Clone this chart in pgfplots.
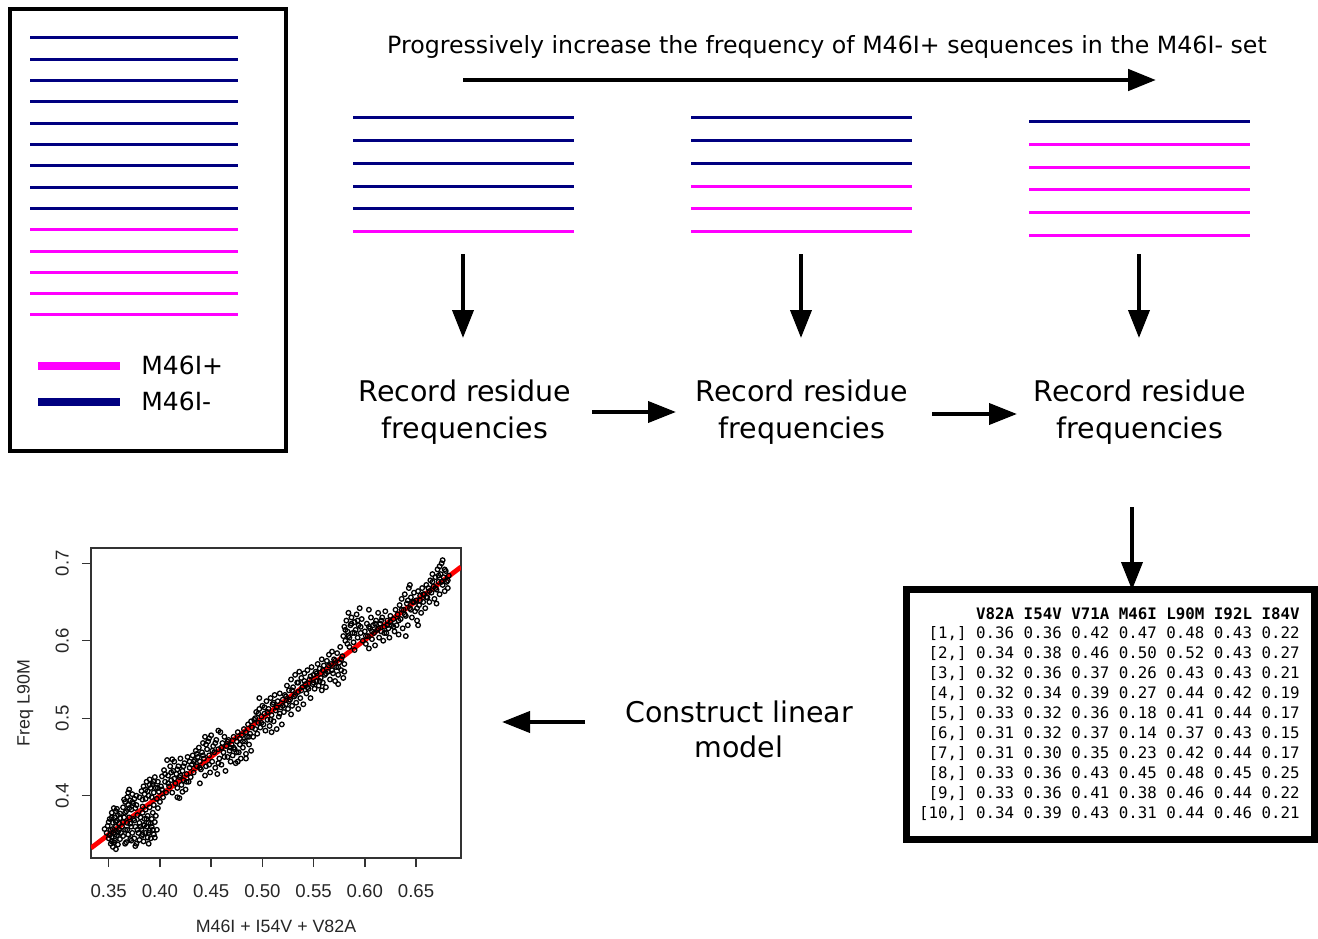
\documentclass[border=0pt]{standalone}
\usepackage{fontspec}
\setmainfont{DejaVu Sans}
\newfontfamily\arial{Liberation Sans}
\newfontfamily\mono{DejaVu Sans Mono}
\usepackage{pgfplots}
\pgfplotsset{compat=1.18}
\usetikzlibrary{arrows.meta}
\definecolor{seqneg}{HTML}{000080}
\definecolor{seqpos}{HTML}{FF00FF}
\tikzset{bigarrow/.style={line width=2pt,-{Triangle[length=14pt,width=10.5pt]}}}
% one sequence line: colour, x from, x to, y
\newcommand\seq[4]{\addplot[#1,line width=1.5pt,mark=none] coordinates {(#2,#4)(#3,#4)};}
\newcommand\rowtxt[2]{\node[anchor=mid east,inner sep=0pt,font=\mono\fontsize{7.9}{9}\selectfont] at (axis cs:1300,#1) {#2};}

\begin{document}
\begin{tikzpicture}
% canvas in pixel units of the reference (y downwards)
\begin{axis}[scale only axis,width=659pt,height=469pt,
  xmin=0,xmax=1318,ymin=0,ymax=938,y dir=reverse,
  axis lines=none,clip=false]
% left box with the full set
\addplot[line width=2pt,mark=none,line join=miter] coordinates {(9.5,9)(285.5,9)(285.5,451)(9.5,451)(9.5,9)(285.5,9)};
\seq{seqneg}{30}{238}{37.7}
\seq{seqneg}{30}{238}{59}
\seq{seqneg}{30}{238}{80.3}
\seq{seqneg}{30}{238}{101.7}
\seq{seqneg}{30}{238}{123}
\seq{seqneg}{30}{238}{144.3}
\seq{seqneg}{30}{238}{165.7}
\seq{seqneg}{30}{238}{187}
\seq{seqneg}{30}{238}{208.3}
\seq{seqpos}{30}{238}{229.6}
\seq{seqpos}{30}{238}{251}
\seq{seqpos}{30}{238}{272.3}
\seq{seqpos}{30}{238}{293.6}
\seq{seqpos}{30}{238}{314.5}
\addplot[seqpos,line width=4pt,mark=none] coordinates {(38,366)(120,366)};
\addplot[seqneg,line width=4pt,mark=none] coordinates {(38,401.5)(120,401.5)};
\node[anchor=mid west,inner sep=0pt,font=\fontsize{12.5}{15}\selectfont] at (axis cs:141,369) {M46I+};
\node[anchor=mid west,inner sep=0pt,font=\fontsize{12.5}{15}\selectfont] at (axis cs:141,405) {M46I-};
% top caption and arrow
\node[inner sep=0pt,font=\fontsize{11.85}{14}\selectfont] at (axis cs:827,47) {Progressively increase the frequency of M46I+ sequences in the M46I- set};
\addplot[bigarrow,line width=2.4pt,mark=none] coordinates {(463,80)(1156,80)};
% block 1
\seq{seqneg}{353}{574}{117.7}
\seq{seqneg}{353}{574}{140.7}
\seq{seqneg}{353}{574}{163.3}
\seq{seqneg}{353}{574}{186}
\seq{seqneg}{353}{574}{208.7}
\seq{seqpos}{353}{574}{231.3}
% block 2
\seq{seqneg}{691}{912}{117.7}
\seq{seqneg}{691}{912}{140.7}
\seq{seqneg}{691}{912}{163.3}
\seq{seqpos}{691}{912}{186}
\seq{seqpos}{691}{912}{208.7}
\seq{seqpos}{691}{912}{231.3}
% block 3
\seq{seqneg}{1029}{1250}{121.7}
\seq{seqpos}{1029}{1250}{144.3}
\seq{seqpos}{1029}{1250}{167}
\seq{seqpos}{1029}{1250}{189.7}
\seq{seqpos}{1029}{1250}{212.3}
\seq{seqpos}{1029}{1250}{235}
% arrows
\addplot[bigarrow,mark=none] coordinates {(463,254)(463,338)};
\addplot[bigarrow,mark=none] coordinates {(801,254)(801,338)};
\addplot[bigarrow,mark=none] coordinates {(1139,254)(1139,338)};
\addplot[bigarrow,mark=none] coordinates {(592,412)(676,412)};
\addplot[bigarrow,mark=none] coordinates {(932,414)(1017,414)};
\addplot[bigarrow,mark=none] coordinates {(1132,507)(1132,590)};
\addplot[bigarrow,mark=none] coordinates {(585,722)(502,722)};
\node[align=center,inner sep=0pt,font=\fontsize{14.25}{18.5}\selectfont] at (axis cs:465,412) {Record residue\\frequencies};
\node[align=center,inner sep=0pt,font=\fontsize{14.25}{18.5}\selectfont] at (axis cs:802,412) {Record residue\\frequencies};
\node[align=center,inner sep=0pt,font=\fontsize{14.25}{18.5}\selectfont] at (axis cs:1140,412) {Record residue\\frequencies};
\node[align=center,inner sep=0pt,font=\fontsize{14.25}{17.5}\selectfont] at (axis cs:739,729) {Construct linear\\model};
% frequency table
\addplot[line width=3.5pt,mark=none,line join=miter] coordinates {(906,589)(1314,589)(1314,839)(906,839)(906,589)(1314,589)};
\rowtxt{614}{\bfseries V82A I54V V71A M46I L90M I92L I84V}
\rowtxt{633.5}{[1,] 0.36 0.36 0.42 0.47 0.48 0.43 0.22}
\rowtxt{653.4}{[2,] 0.34 0.38 0.46 0.50 0.52 0.43 0.27}
\rowtxt{673.3}{[3,] 0.32 0.36 0.37 0.26 0.43 0.43 0.21}
\rowtxt{693.2}{[4,] 0.32 0.34 0.39 0.27 0.44 0.42 0.19}
\rowtxt{713.1}{[5,] 0.33 0.32 0.36 0.18 0.41 0.44 0.17}
\rowtxt{733}{[6,] 0.31 0.32 0.37 0.14 0.37 0.43 0.15}
\rowtxt{752.9}{[7,] 0.31 0.30 0.35 0.23 0.42 0.44 0.17}
\rowtxt{772.8}{[8,] 0.33 0.36 0.43 0.45 0.48 0.45 0.25}
\rowtxt{792.7}{[9,] 0.33 0.36 0.41 0.38 0.46 0.44 0.22}
\rowtxt{812.6}{[10,] 0.34 0.39 0.43 0.31 0.44 0.46 0.21}
\end{axis}

% scatter plot of the linear model
\begin{axis}[at={(45.5pt,40pt)},anchor=south west,scale only axis,width=185pt,height=155pt,
  xmin=0.3327,xmax=0.6939,ymin=0.3196,ymax=0.7197,
  xtick={0.35,0.40,0.45,0.50,0.55,0.60,0.65},
  xticklabels={0.35,0.40,0.45,0.50,0.55,0.60,0.65},
  ytick={0.4,0.5,0.6,0.7},yticklabels={0.4,0.5,0.6,0.7},
  xtick pos=bottom,ytick pos=left,tick align=outside,major tick length=4.5pt,
  axis line style={line width=0.7pt,black!80},tick style={line width=0.7pt,black!80},
  ticklabel style={font=\arial\fontsize{9.3}{11}\selectfont,text=black!85},
  xticklabel style={yshift=-5pt},
  yticklabel style={rotate=90,anchor=south,yshift=3pt},
  label style={font=\arial\fontsize{8.9}{10}\selectfont,text=black!85},
  xlabel={M46I + I54V + V82A},ylabel={Freq L90M},
  xlabel style={at={(axis description cs:0.5,-0.22)},anchor=center},
  ylabel style={at={(axis description cs:-0.178,0.5)},anchor=center}]
\addplot[only marks,mark=o,mark size=1.15pt,mark options={line width=0.65pt,black}] coordinates {
(0.348,0.352)(0.349,0.361)(0.350,0.345)(0.351,0.370)(0.352,0.338)(0.352,0.356)(0.353,0.378)(0.353,0.347)(0.354,0.365)(0.354,0.334)
(0.355,0.384)(0.355,0.352)(0.356,0.372)(0.356,0.342)(0.357,0.360)(0.357,0.380)(0.358,0.349)(0.358,0.368)(0.359,0.337)(0.359,0.375)
(0.360,0.356)(0.360,0.364)(0.361,0.344)(0.361,0.371)(0.362,0.352)(0.350,0.366)(0.354,0.357)(0.356,0.350)(0.358,0.383)(0.346,0.357)
(0.353,0.341)(0.357,0.331)
(0.363,0.360)(0.364,0.385)(0.364,0.348)(0.365,0.372)(0.366,0.392)(0.366,0.356)(0.367,0.340)(0.367,0.380)(0.368,0.365)(0.368,0.398)
(0.369,0.350)(0.369,0.388)(0.370,0.372)(0.370,0.408)(0.371,0.344)(0.371,0.394)(0.372,0.360)(0.372,0.382)(0.373,0.402)(0.373,0.352)
(0.374,0.390)(0.374,0.370)(0.375,0.345)(0.375,0.396)(0.376,0.384)(0.376,0.360)(0.377,0.400)(0.377,0.338)(0.378,0.375)(0.365,0.395)
(0.369,0.404)(0.372,0.342)(0.366,0.338)(0.376,0.335)
(0.379,0.352)(0.380,0.365)(0.380,0.343)(0.381,0.372)(0.382,0.357)(0.382,0.348)(0.383,0.378)(0.384,0.362)(0.384,0.341)(0.385,0.370)
(0.386,0.352)(0.386,0.382)(0.387,0.360)(0.388,0.346)(0.388,0.374)(0.389,0.365)(0.390,0.355)(0.390,0.385)(0.391,0.345)(0.392,0.370)
(0.392,0.360)(0.393,0.378)(0.394,0.350)(0.394,0.388)(0.395,0.366)(0.396,0.374)(0.397,0.356)(0.398,0.384)(0.383,0.386)(0.389,0.338)
(0.380,0.398)(0.382,0.406)(0.383,0.395)(0.384,0.412)(0.385,0.402)(0.386,0.396)(0.387,0.418)(0.388,0.406)(0.389,0.400)(0.390,0.421)
(0.391,0.410)(0.392,0.398)(0.393,0.415)(0.394,0.404)(0.395,0.424)(0.396,0.410)(0.397,0.396)(0.398,0.418)(0.399,0.405)(0.400,0.392)
(0.401,0.412)(0.402,0.425)(0.403,0.398)(0.404,0.433)(0.405,0.418)(0.406,0.404)(0.407,0.446)(0.408,0.426)(0.409,0.412)(0.410,0.438)
(0.411,0.420)(0.412,0.404)(0.413,0.432)(0.414,0.444)(0.415,0.416)(0.416,0.428)(0.417,0.410)(0.418,0.438)(0.419,0.424)(0.420,0.448)
(0.421,0.414)(0.422,0.432)(0.423,0.420)(0.424,0.442)(0.425,0.408)(0.426,0.428)(0.427,0.450)(0.428,0.418)(0.429,0.436)(0.430,0.424)
(0.417,0.398)(0.422,0.405)(0.412,0.447)(0.419,0.397)(0.439,0.416)
(0.431,0.440)(0.432,0.452)(0.433,0.430)(0.434,0.446)(0.435,0.458)(0.436,0.438)(0.437,0.450)(0.438,0.462)(0.439,0.444)(0.440,0.434)
(0.441,0.456)(0.442,0.468)(0.443,0.448)(0.444,0.476)(0.445,0.438)(0.446,0.460)(0.447,0.470)(0.448,0.452)(0.449,0.430)(0.450,0.478)
(0.451,0.444)(0.452,0.464)(0.453,0.456)(0.454,0.436)(0.455,0.472)(0.456,0.428)(0.457,0.460)(0.458,0.448)(0.459,0.482)(0.460,0.440)
(0.461,0.468)(0.462,0.456)(0.463,0.476)(0.464,0.432)(0.465,0.464)(0.466,0.450)(0.467,0.472)(0.468,0.458)(0.469,0.444)(0.470,0.466)
(0.448,0.474)(0.444,0.426)(0.457,0.484)
(0.471,0.452)(0.472,0.476)(0.473,0.460)(0.474,0.442)(0.475,0.470)(0.476,0.482)(0.477,0.456)(0.478,0.466)(0.479,0.448)(0.480,0.478)
(0.481,0.462)(0.482,0.486)(0.483,0.470)(0.484,0.454)(0.485,0.476)(0.486,0.492)(0.487,0.466)(0.488,0.480)(0.489,0.458)(0.490,0.488)
(0.476,0.444)(0.484,0.448)
(0.491,0.476)(0.492,0.498)(0.493,0.486)(0.494,0.508)(0.495,0.480)(0.496,0.494)(0.497,0.512)(0.498,0.488)(0.499,0.502)(0.500,0.516)
(0.501,0.492)(0.502,0.506)(0.503,0.484)(0.504,0.522)(0.505,0.498)(0.506,0.512)(0.507,0.490)(0.508,0.526)(0.509,0.504)(0.510,0.518)
(0.511,0.496)(0.512,0.530)(0.513,0.510)(0.514,0.486)(0.515,0.522)(0.516,0.502)(0.517,0.532)(0.518,0.514)(0.519,0.492)(0.520,0.524)
(0.509,0.482)(0.497,0.526)
(0.521,0.508)(0.522,0.530)(0.523,0.518)(0.524,0.542)(0.525,0.512)(0.526,0.536)(0.527,0.524)(0.528,0.550)(0.529,0.516)(0.530,0.540)
(0.531,0.528)(0.532,0.556)(0.533,0.520)(0.534,0.546)(0.535,0.534)(0.536,0.560)(0.537,0.526)(0.538,0.552)(0.539,0.540)(0.540,0.518)
(0.541,0.558)(0.542,0.544)(0.543,0.532)(0.544,0.562)(0.545,0.538)(0.546,0.550)(0.547,0.526)(0.548,0.566)(0.549,0.544)(0.550,0.556)
(0.528,0.505)(0.535,0.512)
(0.551,0.538)(0.552,0.560)(0.553,0.548)(0.554,0.570)(0.555,0.542)(0.556,0.564)(0.557,0.552)(0.558,0.576)(0.559,0.546)(0.560,0.568)
(0.561,0.556)(0.562,0.540)(0.563,0.574)(0.564,0.560)(0.565,0.582)(0.566,0.550)(0.567,0.570)(0.568,0.586)(0.569,0.558)(0.570,0.576)
(0.571,0.548)(0.572,0.566)(0.573,0.584)(0.574,0.556)(0.575,0.572)(0.576,0.592)(0.577,0.562)(0.578,0.580)(0.579,0.552)(0.580,0.570)
(0.574,0.544)(0.558,0.536)
(0.579,0.606)(0.580,0.618)(0.581,0.600)(0.582,0.626)(0.583,0.612)(0.584,0.636)(0.585,0.604)(0.586,0.620)(0.587,0.630)(0.588,0.610)
(0.589,0.598)(0.590,0.624)(0.591,0.614)(0.592,0.634)(0.593,0.604)(0.594,0.620)(0.595,0.642)(0.596,0.610)(0.597,0.628)(0.585,0.592)
(0.590,0.588)(0.583,0.596)
(0.598,0.600)(0.600,0.612)(0.601,0.596)(0.602,0.622)(0.603,0.606)(0.604,0.590)(0.605,0.616)(0.606,0.630)(0.607,0.602)(0.608,0.620)
(0.609,0.610)(0.610,0.594)(0.611,0.626)(0.612,0.614)(0.613,0.636)(0.614,0.604)(0.615,0.622)(0.616,0.612)(0.617,0.630)(0.618,0.600)
(0.619,0.618)(0.620,0.638)(0.621,0.610)(0.622,0.626)(0.623,0.616)(0.624,0.604)(0.625,0.632)(0.626,0.620)(0.628,0.628)(0.630,0.640)
(0.629,0.612)(0.604,0.640)
(0.631,0.620)(0.632,0.634)(0.633,0.608)(0.634,0.646)(0.635,0.628)(0.636,0.654)(0.637,0.616)(0.638,0.640)(0.639,0.660)(0.640,0.632)
(0.641,0.648)(0.642,0.620)(0.643,0.668)(0.644,0.642)(0.645,0.656)(0.646,0.630)(0.647,0.650)(0.648,0.662)(0.649,0.638)(0.650,0.652)
(0.651,0.626)(0.652,0.664)(0.653,0.646)(0.654,0.658)(0.655,0.636)(0.656,0.668)(0.657,0.650)(0.658,0.660)(0.659,0.642)(0.660,0.672)
(0.640,0.606)(0.652,0.620)(0.644,0.672)
(0.661,0.656)(0.662,0.668)(0.663,0.650)(0.664,0.678)(0.665,0.662)(0.666,0.686)(0.667,0.670)(0.668,0.654)(0.669,0.682)(0.670,0.666)
(0.671,0.692)(0.672,0.676)(0.673,0.660)(0.674,0.686)(0.675,0.700)(0.676,0.672)(0.677,0.682)(0.678,0.664)(0.679,0.690)(0.680,0.676)
(0.681,0.668)(0.682,0.684)(0.670,0.648)(0.676,0.704)(0.673,0.696)
(0.351,0.349)(0.353,0.372)(0.355,0.340)(0.357,0.366)(0.359,0.353)(0.361,0.377)(0.364,0.366)(0.366,0.378)(0.368,0.356)(0.370,0.384)
(0.371,0.364)(0.373,0.392)(0.375,0.368)(0.377,0.388)(0.378,0.356)
(0.381,0.360)(0.383,0.350)(0.385,0.362)(0.387,0.370)(0.389,0.352)(0.391,0.364)(0.393,0.356)(0.395,0.346)(0.386,0.408)(0.390,0.414)
(0.394,0.418)(0.398,0.410)
(0.402,0.408)(0.405,0.428)(0.408,0.416)(0.411,0.430)(0.414,0.422)(0.417,0.434)(0.420,0.426)(0.423,0.438)(0.426,0.418)(0.429,0.444)
(0.433,0.444)(0.436,0.454)(0.439,0.436)(0.442,0.452)(0.445,0.466)(0.448,0.440)(0.451,0.458)(0.454,0.468)(0.457,0.442)(0.460,0.462)
(0.463,0.450)(0.466,0.470)(0.469,0.462)
(0.472,0.462)(0.475,0.456)(0.478,0.474)(0.481,0.470)(0.484,0.482)(0.487,0.476)(0.489,0.496)
(0.493,0.500)(0.496,0.506)(0.499,0.494)(0.502,0.514)(0.505,0.508)(0.508,0.498)(0.511,0.520)(0.514,0.514)(0.517,0.506)(0.520,0.516)
(0.523,0.528)(0.526,0.522)(0.529,0.536)(0.532,0.530)(0.535,0.546)(0.538,0.536)(0.541,0.548)(0.544,0.540)(0.547,0.554)(0.550,0.546)
(0.553,0.558)(0.556,0.548)(0.559,0.562)(0.562,0.558)(0.565,0.568)(0.568,0.562)(0.571,0.574)(0.574,0.566)(0.577,0.576)(0.580,0.560)
(0.581,0.614)(0.584,0.606)(0.587,0.622)(0.590,0.610)(0.593,0.626)(0.596,0.618)
(0.601,0.606)(0.604,0.618)(0.607,0.612)(0.610,0.622)(0.613,0.616)(0.616,0.626)(0.619,0.610)(0.622,0.620)(0.625,0.624)(0.628,0.618)
(0.633,0.626)(0.636,0.640)(0.639,0.634)(0.642,0.652)(0.645,0.640)(0.648,0.650)(0.651,0.642)(0.654,0.652)(0.657,0.660)(0.660,0.656)
(0.663,0.664)(0.666,0.676)(0.669,0.668)(0.672,0.684)(0.675,0.676)(0.678,0.692)(0.681,0.678)
};
\addplot[red,line width=2.4pt,mark=none] coordinates {(0.3327,0.3325)(0.6939,0.6952)};
\end{axis}
\pgfresetboundingbox
\path[use as bounding box] (0,0) rectangle (659pt,469pt);
\end{tikzpicture}
\end{document}
